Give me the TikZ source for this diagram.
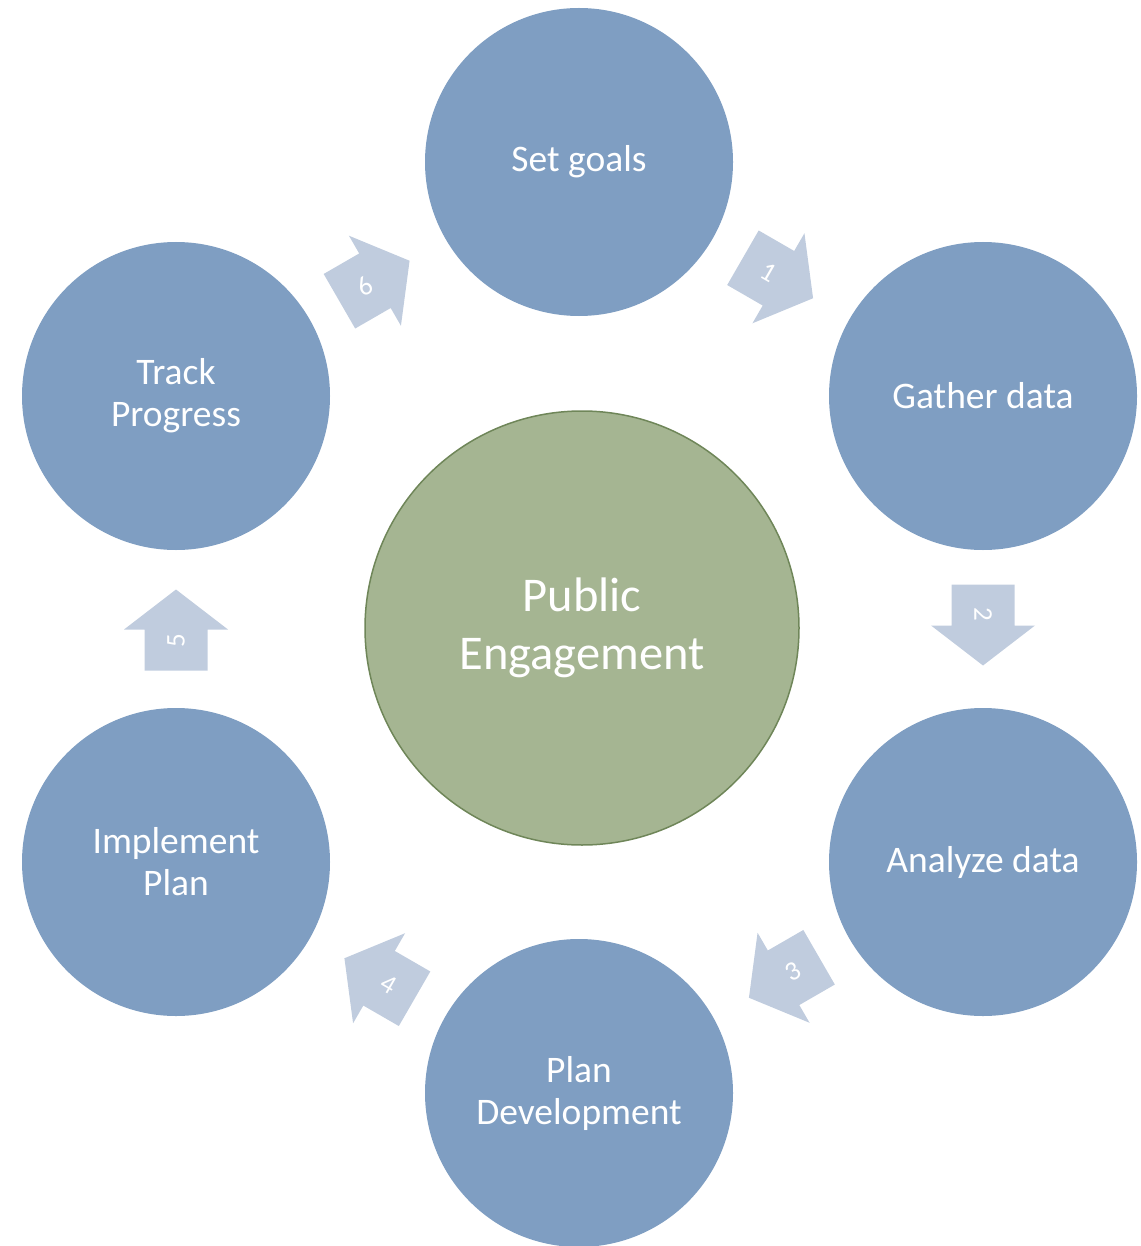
\documentclass[tikz,border=0pt]{standalone}
\usepackage{fontspec}
\setmainfont{Carlito}
\usetikzlibrary{calc}
\definecolor{stepblue}{HTML}{7F9EC2}
\definecolor{arrowblue}{HTML}{C0CCDE}
\definecolor{centergreen}{HTML}{A5B592}
\definecolor{centeredge}{HTML}{6F8659}
\tikzset{
  stepnode/.style={circle, fill=stepblue, draw=none, minimum size=308pt, inner sep=0pt,
    text=white, align=center, font=\fontsize{37.5}{42}\selectfont},
  hubnode/.style={circle, fill=centergreen, draw=centeredge, line width=1.5pt, minimum size=434pt,
    inner sep=0pt, text=white, align=center, font=\fontsize{48.5}{58}\selectfont},
  numtext/.style={text=white, inner sep=0pt, font=\fontsize{27}{27}\selectfont}
}
% #1 centre, #2 direction, #3 text angle, #4 number, #5 name
\newcommand\flowarr[5]{%
  \begin{scope}[shift={#1}, rotate=#2]
    \fill[arrowblue] (-40.5,-31.5) -- (0.5,-31.5) -- (0.5,-52) -- (40.5,0)
      -- (0.5,52) -- (0.5,31.5) -- (-40.5,31.5) -- cycle;
    \node[numtext, rotate=#3] (#5) at (-11,0) {#4};
  \end{scope}}
\begin{document}
\begin{tikzpicture}[x=1pt,y=-1pt]
\useasboundingbox (0,0) rectangle (1140,1246);
\node[hubnode] (hub) at (582,628) {Public\\Engagement};
\node[stepnode] (s1) at (579,162) {Set goals};
\node[stepnode] (s2) at (983,396) {Gather data};
\node[stepnode] (s3) at (983,862) {Analyze data};
\node[stepnode] (s4) at (579,1093) {Plan\\Development};
\node[stepnode] (s5) at (176,862) {Implement\\Plan};
\node[stepnode] (s6) at (176,396) {Track\\Progress};
\flowarr{($(s1)!0.5!(s2)+(-3,-1)$)}{-30}{-30}{1}{a1}
\flowarr{($(s2)!0.5!(s3)+(0,-4)$)}{-90}{-90}{2}{a2}
\flowarr{($(s3)!0.5!(s4)+(3,0)$)}{210}{30}{3}{a3}
\flowarr{($(s4)!0.5!(s5)+(2,1)$)}{150}{-30}{4}{a4}
\flowarr{($(s5)!0.5!(s6)+(0,1)$)}{90}{90}{5}{a5}
\flowarr{($(s6)!0.5!(s1)+(-3,2)$)}{30}{30}{6}{a6}
\end{tikzpicture}
\end{document}
